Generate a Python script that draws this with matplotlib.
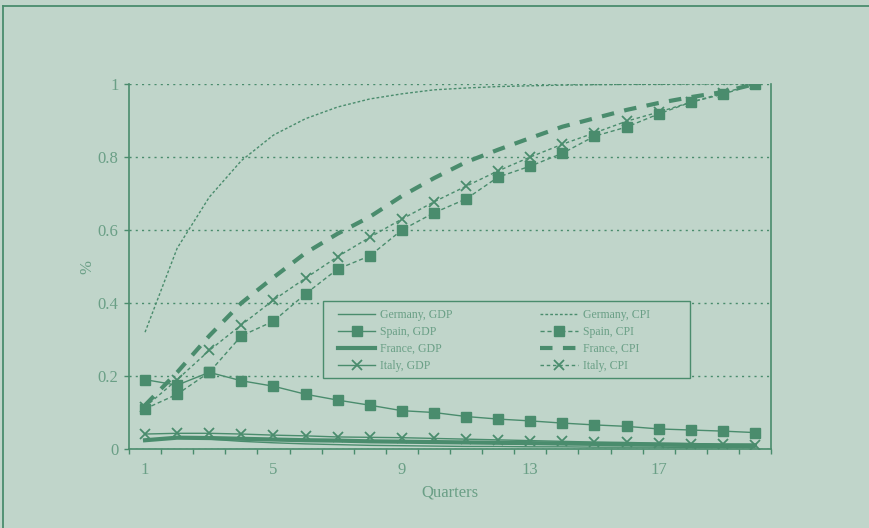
import matplotlib
matplotlib.use("Agg")
import matplotlib.pyplot as plt
from matplotlib.lines import Line2D
from matplotlib.patches import Rectangle
from matplotlib.ticker import FixedLocator, NullFormatter

quarters = list(range(1, 21))
xtick_labels = ["1", "5", "9", "13", "17"]

germany_gdp = [0.025, 0.032, 0.027, 0.021, 0.017, 0.014, 0.012, 0.010, 0.009, 0.008,
               0.007, 0.007, 0.006, 0.006, 0.005, 0.005, 0.005, 0.004, 0.004, 0.004]
spain_gdp = [0.19, 0.175, 0.21, 0.187, 0.172, 0.15, 0.134, 0.12, 0.105, 0.10,
             0.089, 0.082, 0.077, 0.071, 0.066, 0.062, 0.055, 0.052, 0.049, 0.045]
france_gdp = [0.024, 0.031, 0.030, 0.028, 0.026, 0.024, 0.023, 0.021, 0.020, 0.019,
              0.018, 0.017, 0.016, 0.015, 0.014, 0.013, 0.012, 0.011, 0.010, 0.010]
italy_gdp = [0.041, 0.043, 0.043, 0.041, 0.038, 0.036, 0.033, 0.032, 0.031, 0.029,
             0.027, 0.025, 0.023, 0.021, 0.019, 0.018, 0.016, 0.015, 0.013, 0.012]

germany_cpi = [0.32, 0.55, 0.69, 0.79, 0.86, 0.905, 0.937, 0.959, 0.973, 0.984,
               0.989, 0.993, 0.995, 0.997, 0.998, 0.999, 0.999, 1.0, 1.0, 1.0]
spain_cpi = [0.11, 0.15, 0.21, 0.31, 0.35, 0.425, 0.493, 0.529, 0.60, 0.647,
             0.685, 0.745, 0.775, 0.81, 0.857, 0.882, 0.918, 0.95, 0.972, 1.0]
france_cpi = [0.12, 0.21, 0.31, 0.40, 0.47, 0.537, 0.59, 0.636, 0.693, 0.742,
              0.786, 0.82, 0.852, 0.883, 0.906, 0.929, 0.948, 0.964, 0.978, 1.0]
italy_cpi = [0.115, 0.19, 0.27, 0.34, 0.408, 0.468, 0.527, 0.58, 0.63, 0.677,
             0.72, 0.762, 0.80, 0.835, 0.866, 0.898, 0.923, 0.95, 0.975, 1.0]

BG = "#c0d5ca"
LC = "#4a8c6d"
TC = "#6a9f86"

plt.rcParams["font.family"] = ["Liberation Serif", "DejaVu Serif"]

W, H = 869, 528
fig = plt.figure(figsize=(W/100, H/100), dpi=100, facecolor=BG)
AX_L, AX_R, AX_T, AX_B = 129, 771, 84, 449
ax = fig.add_axes([AX_L/W, 1-AX_B/H, (AX_R-AX_L)/W, (AX_B-AX_T)/H])
ax.set_facecolor(BG)

def ax_x(px):
    return (px - AX_L) / (AX_R - AX_L)

def ax_y(py):
    return (AX_B - py) / (AX_B - AX_T)

# outer frame (left & top visible)
fig.add_artist(Line2D([3/W, 3/W], [0, 1-6/H], transform=fig.transFigure, color=LC, lw=1.3))
fig.add_artist(Line2D([3/W, 1], [1-6/H, 1-6/H], transform=fig.transFigure, color=LC, lw=1.3))

thin = 1.0
ax.plot(quarters, germany_gdp, color=LC, lw=thin, label="Germany, GDP")
ax.plot(quarters, spain_gdp, color=LC, lw=thin, marker="s", ms=6.5, label="Spain, GDP")
ax.plot(quarters, france_gdp, color=LC, lw=3.0, label="France, GDP")
ax.plot(quarters, italy_gdp, color=LC, lw=thin, marker="x", ms=7, mew=1.3, label="Italy, GDP")
ax.plot(quarters, germany_cpi, color=LC, lw=thin, ls=(0, (2, 1.5)), label="Germany, CPI")
ax.plot(quarters, spain_cpi, color=LC, lw=thin, ls=(0, (3, 2)), marker="s", ms=6.5, label="Spain, CPI")
ax.plot(quarters, france_cpi, color=LC, lw=3.0, ls=(0, (3, 2.5)), label="France, CPI")
ax.plot(quarters, italy_cpi, color=LC, lw=thin, ls=(0, (2.5, 2)), marker="x", ms=7, mew=1.3, label="Italy, CPI")

ax.set_xlim(0.5, 20.5)
ax.set_ylim(0, 1)

ax.xaxis.set_major_locator(FixedLocator([int(v) for v in xtick_labels]))
ax.set_xticklabels(xtick_labels)
ax.xaxis.set_minor_locator(FixedLocator([q - 0.5 for q in quarters] + [20.5]))
ax.xaxis.set_minor_formatter(NullFormatter())
ax.tick_params(axis="x", which="major", length=0, pad=9, labelsize=12, labelcolor=TC)
ax.tick_params(axis="x", which="minor", length=3.5, width=1, color=LC, direction="out")

ax.set_yticks([0, 0.2, 0.4, 0.6, 0.8, 1.0])
ax.set_yticklabels(["0", "0.2", "0.4", "0.6", "0.8", "1"])
ax.tick_params(axis="y", length=3.5, width=1, color=LC, labelsize=12, labelcolor=TC, pad=4)

ax.yaxis.grid(True, color=LC, ls=(0, (1.5, 3)), lw=1)
ax.set_axisbelow(True)

for s in ["left", "bottom", "right"]:
    ax.spines[s].set_color(LC)
    ax.spines[s].set_linewidth(1.2)
ax.spines["top"].set_visible(False)

ax.set_xlabel("Quarters", color=TC, fontsize=12, labelpad=5)
ax.set_ylabel("%", color=TC, fontsize=12, labelpad=2)

# legend box
ax.add_patch(Rectangle((ax_x(323), ax_y(378)), ax_x(690) - ax_x(323), ax_y(301) - ax_y(378),
                       transform=ax.transAxes, facecolor=BG, edgecolor=LC, lw=1.0, zorder=4))

leg = ax.legend(ncol=2, loc="upper left", bbox_to_anchor=(ax_x(338), ax_y(309)),
                fontsize=8.5, frameon=False, borderpad=0, borderaxespad=0,
                handlelength=3.15, handletextpad=0.45, labelspacing=0.42,
                columnspacing=7.4, labelcolor=TC)
leg.set_zorder(5)

fig.savefig("out.png", dpi=100, facecolor=BG)
